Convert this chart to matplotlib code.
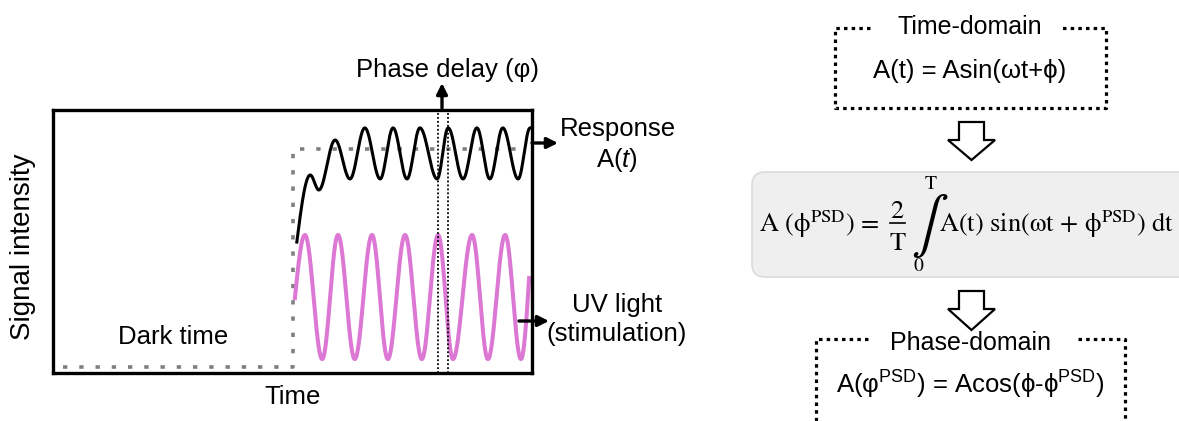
import numpy as np
import matplotlib.pyplot as plt
from matplotlib.patches import Polygon, FancyBboxPatch

plt.rcParams["font.family"] = ["Liberation Sans", "DejaVu Sans"]
plt.rcParams["mathtext.fontset"] = "custom"
plt.rcParams["mathtext.rm"] = "Liberation Sans"
plt.rcParams["mathtext.it"] = "Liberation Sans:italic"
plt.rcParams["mathtext.fallback"] = "stixsans"

W, H = 1179, 421

# UV light (stimulation): turning points of the wave after switch-on
stim_t = [50.5, 52.6, 56.2, 59.5, 63.0, 66.6, 69.9, 73.5, 77.0, 80.4, 83.5, 87.5, 90.8, 94.4, 97.7, 99.4]
stim_i = [28.3, 52.3, 5.1, 52.3, 5.1, 52.3, 5.1, 52.3, 5.1, 52.3, 5.1, 52.3, 5.1, 52.3, 5.1, 35.9]

# response A(t): turning points
resp_t = [50.9, 53.7, 55.5, 58.9, 62.0, 65.1, 68.3, 71.0, 73.9, 76.6, 80.2, 82.5, 85.6, 88.5, 91.2, 93.9, 97.1, 99.6]
resp_i = [49.6, 75.1, 69.4, 88.4, 73.6, 93.0, 73.6, 93.0, 73.6, 93.0, 73.6, 93.0, 73.6, 93.0, 73.6, 93.0, 73.6, 93.0]

# light level: dark time, then on
step_t = [2.1, 50.2, 50.2, 99.0]
step_i = [2.1, 2.1, 85.0, 85.0]

# peaks used to mark the phase delay
phase_stim_peak = 9
phase_resp_peak = 11


def smooth(ts, ys, n=40, ease_end=False):
    # sine-shaped segments between turning points
    xs, vs = [], []
    for k in range(len(ts) - 1):
        s = np.linspace(0, 1, n)
        if k == 0:
            w = np.sin(np.pi / 2 * s)
        elif ease_end and k == len(ts) - 2:
            w = 1 - np.cos(np.pi / 2 * s)
        else:
            w = (1 - np.cos(np.pi * s)) / 2
        xs.append(ts[k] + (ts[k + 1] - ts[k]) * s)
        vs.append(ys[k] + (ys[k + 1] - ys[k]) * w)
    return np.concatenate(xs), np.concatenate(vs)


fig = plt.figure(figsize=(W / 100, H / 100), dpi=100)

# ---- left: signal vs time ----
ax = fig.add_axes([53 / W, 1 - 372.5 / H, 479 / W, 263 / H])
ax.set_xlim(0, 100)
ax.set_ylim(0, 100)
ax.set_xticks([])
ax.set_yticks([])
for sp in ax.spines.values():
    sp.set_linewidth(2.4)

ax.plot(step_t, step_i, color="#7f7f7f", lw=2.6, ls=(0, (1.2, 3.3)), solid_capstyle="butt",
        dash_capstyle="butt")

x, y = smooth(stim_t, stim_i, ease_end=True)
ax.plot(x, y, color="#dc78d4", lw=2.9)

x, y = smooth(resp_t, resp_i)
ax.plot(x, y, color="black", lw=2.2)

for xv in (stim_t[phase_stim_peak], resp_t[phase_resp_peak]):
    ax.axvline(xv, color="black", lw=1.3, ls=(0, (1, 1.2)))

ax.text(25, 13.5, "Dark time", ha="center", va="center", fontsize=18.5)

# ---- overlay in pixel units for labels and the flow diagram ----
ov = fig.add_axes([0, 0, 1, 1])
ov.set_xlim(0, W)
ov.set_ylim(H, 0)
ov.set_axis_off()

ov.text(23, 247, "Signal intensity", rotation=90, ha="center", va="center", fontsize=20)
ov.text(293, 397, "Time", ha="center", va="center", fontsize=18.5)
ov.text(447, 70, "Phase delay (φ)", ha="center", va="center", fontsize=18.5)
ov.text(618, 129, "Response", ha="center", va="center", fontsize=18.5)
ov.text(617, 160, r"A($\mathit{t}$)", ha="center", va="center", fontsize=18.5)
ov.text(617, 305, "UV light", ha="center", va="center", fontsize=18.5)
ov.text(617, 334, "(stimulation)", ha="center", va="center", fontsize=18.5)

arr = dict(arrowstyle="-|>", lw=2.4, color="black", mutation_scale=16, shrinkA=0, shrinkB=0)
ov.annotate("", xy=(442, 83), xytext=(442, 108), arrowprops=arr)
ov.annotate("", xy=(558, 143), xytext=(532, 143), arrowprops=arr)
ov.annotate("", xy=(549, 321), xytext=(519, 321), arrowprops=arr)

# ---- right: time-domain -> PSD -> phase-domain ----
dot = dict(color="black", lw=2.3, ls=(0, (1.1, 1.3)), solid_capstyle="butt")

# time-domain box
ov.plot([870, 835, 835, 1106, 1106, 1062], [28, 28, 108, 108, 28, 28], **dot)
ov.text(970, 27, "Time-domain", ha="center", va="center", fontsize=18)
ov.text(970, 71, "A(t) = Asin(ωt+ϕ)", ha="center", va="center", fontsize=18.5)

# hollow down arrows
for top, head, tip in [(122, 140, 160), (291, 309, 330)]:
    pts = [(959, top), (984, top), (984, head), (995, head), (971.5, tip), (948, head), (959, head)]
    ov.add_patch(Polygon(pts, closed=True, fc="white", ec="black", lw=1.6, joinstyle="miter"))

# PSD equation panel
ov.add_patch(FancyBboxPatch((752, 172), 470, 105, boxstyle="round,pad=0,rounding_size=13",
                            fc="#efefef", ec="#dadada", lw=1.2))
serif = dict(family="STIXGeneral", math_fontfamily="stix")
ov.text(759, 232, r"A (ϕ$^{\mathrm{PSD}}$) =", ha="left", va="baseline", fontsize=19, **serif)
ov.text(897, 218, "2", ha="center", va="baseline", fontsize=19, **serif)
ov.plot([890, 905], [222.5, 222.5], color="black", lw=1.2)
ov.text(897, 250, "T", ha="center", va="baseline", fontsize=19, **serif)
ov.text(924, 226, "∫", ha="center", va="center", fontsize=40, **serif)
ov.text(931, 184, "T", ha="center", va="center", fontsize=14, **serif)
ov.text(918, 266, "0", ha="center", va="center", fontsize=14, **serif)
ov.text(939, 232, r"A(t) sin(ωt + ϕ$^{\mathrm{PSD}}$) dt", ha="left", va="baseline", fontsize=19, **serif)

# phase-domain box (continues past the bottom edge)
ov.plot([868, 816, 816], [339, 339, 430], **dot)
ov.plot([1078, 1125, 1125], [339, 339, 430], **dot)
ov.text(970, 343, "Phase-domain", ha="center", va="center", fontsize=18)
ov.text(970, 385, r"A(φ$^{\mathrm{PSD}}$) = Acos(ϕ-ϕ$^{\mathrm{PSD}}$)", ha="center", va="center", fontsize=18.5)

fig.savefig("out.png", dpi=100)
